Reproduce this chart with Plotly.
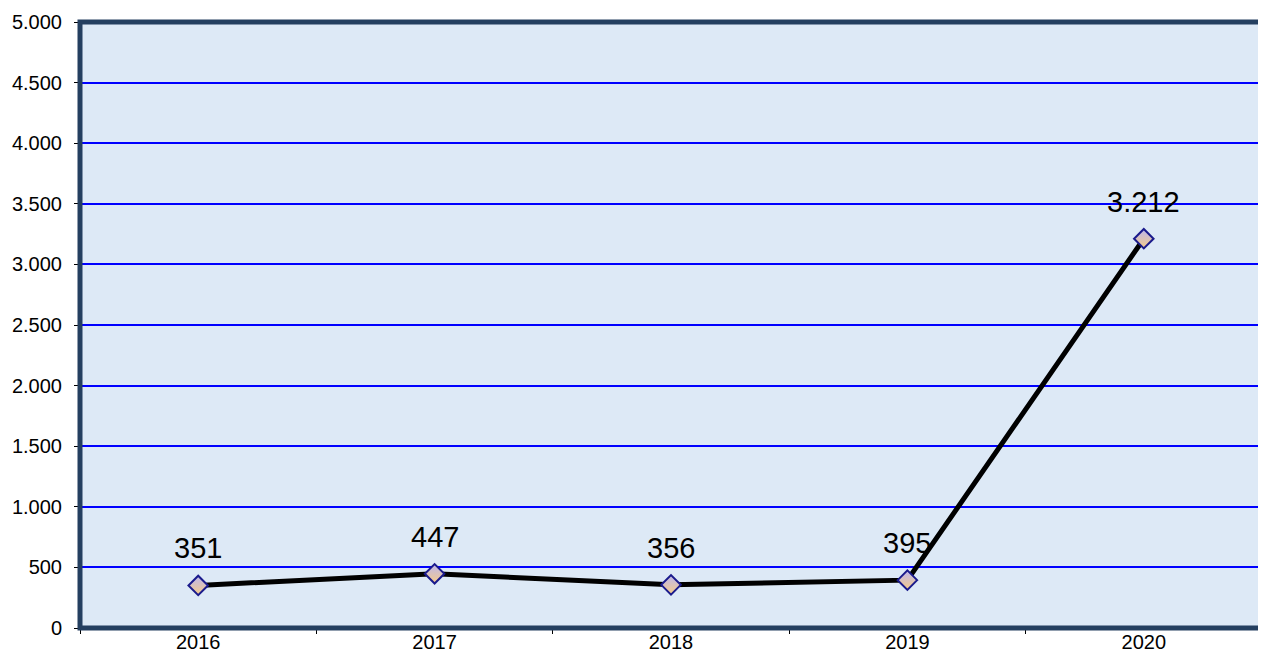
import plotly.graph_objects as go

years = ["2016", "2017", "2018", "2019", "2020"]
values = [351, 447, 356, 395, 3212]
y_ticks = [0, 500, 1000, 1500, 2000, 2500, 3000, 3500, 4000, 4500, 5000]

def fmt(v):
    return f"{v:,}".replace(",", ".")

FONT = "Liberation Sans, Arial, sans-serif"

fig = go.Figure()
fig.add_trace(go.Scatter(
    x=years, y=values, mode="lines+markers",
    line=dict(color="black", width=5),
    marker=dict(symbol="diamond", size=15, color="#BDB7EE",
                gradient=dict(type="vertical", color="#F6CB88"),
                line=dict(color="#1A1A8C", width=2)),
    hoverinfo="skip", showlegend=False,
))

annotations = [
    dict(x=i, y=v, xref="x", yref="y", text=fmt(v), showarrow=False,
         yshift=37, font=dict(size=29, color="black", family=FONT))
    for i, v in enumerate(values)
]

fig.update_layout(
    width=1266, height=655,
    margin=dict(l=72, r=12, t=14, b=35),
    paper_bgcolor="white", plot_bgcolor="#DDE9F6",
    font=dict(family=FONT, size=20, color="black"),
    xaxis=dict(type="category", range=[-0.5, 4.5], showgrid=False,
               ticks="outside", ticklen=5, tickcolor="black",
               tickson="boundaries", zeroline=False, automargin=False),
    yaxis=dict(range=[0, 5000], tickvals=y_ticks,
               ticktext=[fmt(t) for t in y_ticks],
               showgrid=True, gridcolor="#0000FF", gridwidth=2,
               ticks="outside", ticklen=5, tickcolor="black", zeroline=False,
               ticklabelstandoff=8, automargin=False),
    annotations=annotations,
    shapes=[dict(type="rect", xref="paper", yref="paper", x0=0, x1=1, y0=0, y1=1,
                 line=dict(color="#243F60", width=5), layer="above")],
)
fig.write_html("out.html")
